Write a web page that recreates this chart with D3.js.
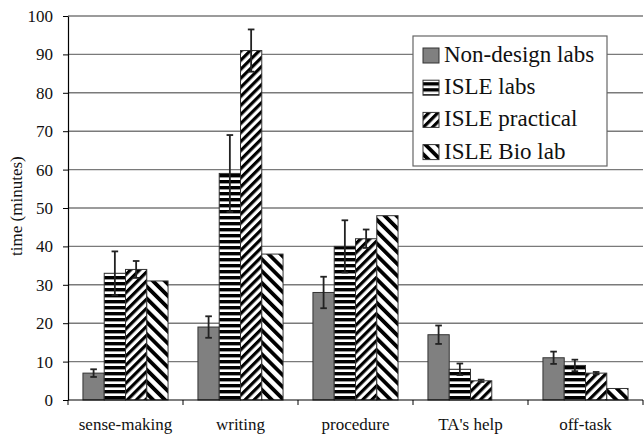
<!DOCTYPE html>
<html>
<head>
<meta charset="utf-8">
<script src="https://cdn.jsdelivr.net/npm/d3@7"></script>
<style>
  html, body { margin: 0; padding: 0; background: #fff; }
  svg { display: block; }
</style>
</head>
<body>
<svg id="chart" width="644" height="434" font-family="'Liberation Serif', serif"></svg>
<script>
// Time spent per activity, in minutes
const categories = ["sense-making", "writing", "procedure", "TA's help", "off-task"];
const seriesNames = ["Non-design labs", "ISLE labs", "ISLE practical", "ISLE Bio lab"];
const nonDesign     = [7, 19, 28, 17, 11];
const isleLabs      = [33, 59, 40, 8, 9];
const islePractical = [34, 91, 42, 5, 7];
const isleBio       = [31, 38, 48, 0, 3];
// Error bar half-widths (no error bars for the Bio lab)
const nonDesignErr     = [1, 2.8, 4.1, 2.4, 1.6];
const isleLabsErr      = [5.7, 10, 6.8, 1.5, 1.5];
const islePracticalErr = [2.2, 5.5, 2.4, 0.3, 0.3];
const yTicks = [0, 10, 20, 30, 40, 50, 60, 70, 80, 90, 100];

const seriesValues = [nonDesign, isleLabs, islePractical, isleBio];
const seriesErrors = [nonDesignErr, isleLabsErr, islePracticalErr, null];

const SERIF = "font-family:'Liberation Serif','Times New Roman',serif";
const svg = d3.select("#chart");
const margin = { left: 68, right: 1, top: 16, bottom: 34 };
const W = 644, H = 434;

const x = d3.scaleBand()
  .domain(categories)
  .range([margin.left, W - margin.right])
  .paddingInner(0.26)
  .paddingOuter(0.13);
const xs = d3.scaleBand()
  .domain(seriesNames)
  .range([0, x.bandwidth()])
  .padding(0);
const y = d3.scaleLinear()
  .domain([0, 100])
  .range([H - margin.bottom, margin.top]);

// Fill patterns
const defs = svg.append("defs");
function stripes(id, size, thick, angle) {
  const p = defs.append("pattern")
    .attr("id", id)
    .attr("patternUnits", "userSpaceOnUse")
    .attr("width", size).attr("height", size);
  if (angle !== 0) p.attr("patternTransform", `rotate(${angle})`);
  p.append("rect").attr("width", size).attr("height", size).attr("fill", "#fff");
  if (angle === 0) {
    p.append("rect").attr("x", 0).attr("y", 0).attr("width", size).attr("height", thick).attr("fill", "#000");
  } else {
    p.append("rect").attr("x", 0).attr("y", 0).attr("width", thick).attr("height", size).attr("fill", "#000");
  }
}
stripes("pat-labs", 6, 3.4, 0);
stripes("pat-practical", 6.4, 3.2, 45);
stripes("pat-bio", 8.4, 3.8, -45);
const fills = ["#808080", "url(#pat-labs)", "url(#pat-practical)", "url(#pat-bio)"];

// Gridlines
svg.append("g")
  .selectAll("line")
  .data(yTicks.filter(d => d > 0))
  .join("line")
  .attr("x1", margin.left).attr("x2", W - margin.right)
  .attr("y1", d => y(d)).attr("y2", d => y(d))
  .attr("stroke", "#7a7a7a").attr("stroke-width", 1.4);

// Bars
const groups = svg.append("g")
  .selectAll("g")
  .data(seriesNames.map((name, i) => ({ name, i })))
  .join("g");

groups.selectAll("rect")
  .data(s => categories.map((c, j) => ({ c, v: seriesValues[s.i][j], s })))
  .join("rect")
  .filter(d => d.v > 0)
  .attr("x", d => x(d.c) + xs(d.s.name))
  .attr("y", d => y(d.v))
  .attr("width", xs.bandwidth())
  .attr("height", d => y(0) - y(d.v))
  .attr("fill", d => fills[d.s.i])
  .attr("stroke", "#333")
  .attr("stroke-width", 1);

// Error bars
const errData = [];
seriesNames.forEach((name, i) => {
  if (!seriesErrors[i]) return;
  categories.forEach((c, j) => {
    errData.push({ c, name, v: seriesValues[i][j], e: seriesErrors[i][j] });
  });
});
const eg = svg.append("g").attr("stroke", "#222").attr("stroke-width", 1.8);
const cx = d => x(d.c) + xs(d.name) + xs.bandwidth() / 2;
eg.selectAll("line.v").data(errData).join("line").attr("class", "v")
  .attr("x1", cx).attr("x2", cx)
  .attr("y1", d => y(d.v + d.e)).attr("y2", d => y(d.v - d.e));
eg.selectAll("line.t").data(errData).join("line").attr("class", "t")
  .attr("x1", d => cx(d) - 3.3).attr("x2", d => cx(d) + 3.3)
  .attr("y1", d => y(d.v + d.e)).attr("y2", d => y(d.v + d.e));
eg.selectAll("line.b").data(errData).join("line").attr("class", "b")
  .attr("x1", d => cx(d) - 3.3).attr("x2", d => cx(d) + 3.3)
  .attr("y1", d => y(d.v - d.e)).attr("y2", d => y(d.v - d.e));

// Y axis
const yAxis = svg.append("g")
  .attr("transform", `translate(${margin.left},0)`)
  .call(d3.axisLeft(y).tickValues(yTicks).tickSize(5).tickPadding(10).tickSizeOuter(0));
yAxis.attr("font-family", null).attr("font-size", null);
yAxis.select(".domain").attr("stroke", "#000").attr("stroke-width", 1.2);
yAxis.selectAll(".tick line").attr("stroke", "#000");
yAxis.selectAll(".tick text")
  .attr("style", SERIF + ";font-size:17px")
  .attr("fill", "#111");

// X axis: category labels with boundary ticks
const xAxisG = svg.append("g").attr("transform", `translate(0,${y(0)})`);
xAxisG.append("line")
  .attr("x1", margin.left).attr("x2", W - margin.right)
  .attr("stroke", "#000").attr("stroke-width", 1.2);
const bounds = categories.map(c => x(c) - x.step() * x.paddingInner() / 2)
  .concat([x(categories[categories.length - 1]) + x.bandwidth() + x.step() * x.paddingInner() / 2]);
xAxisG.selectAll("line.tk").data(bounds).join("line").attr("class", "tk")
  .attr("x1", d => d).attr("x2", d => d).attr("y1", 0).attr("y2", 5)
  .attr("stroke", "#000");
xAxisG.selectAll("text").data(categories).join("text")
  .attr("x", d => x(d) + x.bandwidth() / 2)
  .attr("y", 30)
  .attr("text-anchor", "middle")
  .attr("style", SERIF + ";font-size:17px")
  .attr("fill", "#111")
  .text(d => d);

// Y axis title
svg.append("text")
  .attr("transform", `translate(22,${y(50.5)}) rotate(-90)`)
  .attr("text-anchor", "middle")
  .attr("style", SERIF + ";font-size:17px")
  .attr("fill", "#111")
  .text("time (minutes)");

// Legend
const lg = svg.append("g").attr("transform", "translate(413,36)");
lg.append("rect")
  .attr("width", 194).attr("height", 130)
  .attr("fill", "#fff").attr("stroke", "#666").attr("stroke-width", 1.2);
const items = lg.selectAll("g.item").data(seriesNames).join("g").attr("class", "item")
  .attr("transform", (d, i) => `translate(0,${26 + i * 32.2})`);
items.append("rect")
  .attr("x", 10).attr("y", -14).attr("width", 16).attr("height", 15)
  .attr("fill", (d, i) => fills[i]).attr("stroke", "#333").attr("stroke-width", 1);
items.append("text")
  .attr("x", 31).attr("y", 0)
  .attr("style", SERIF + ";font-size:23px")
  .attr("fill", "#111")
  .text(d => d);
</script>
</body>
</html>
